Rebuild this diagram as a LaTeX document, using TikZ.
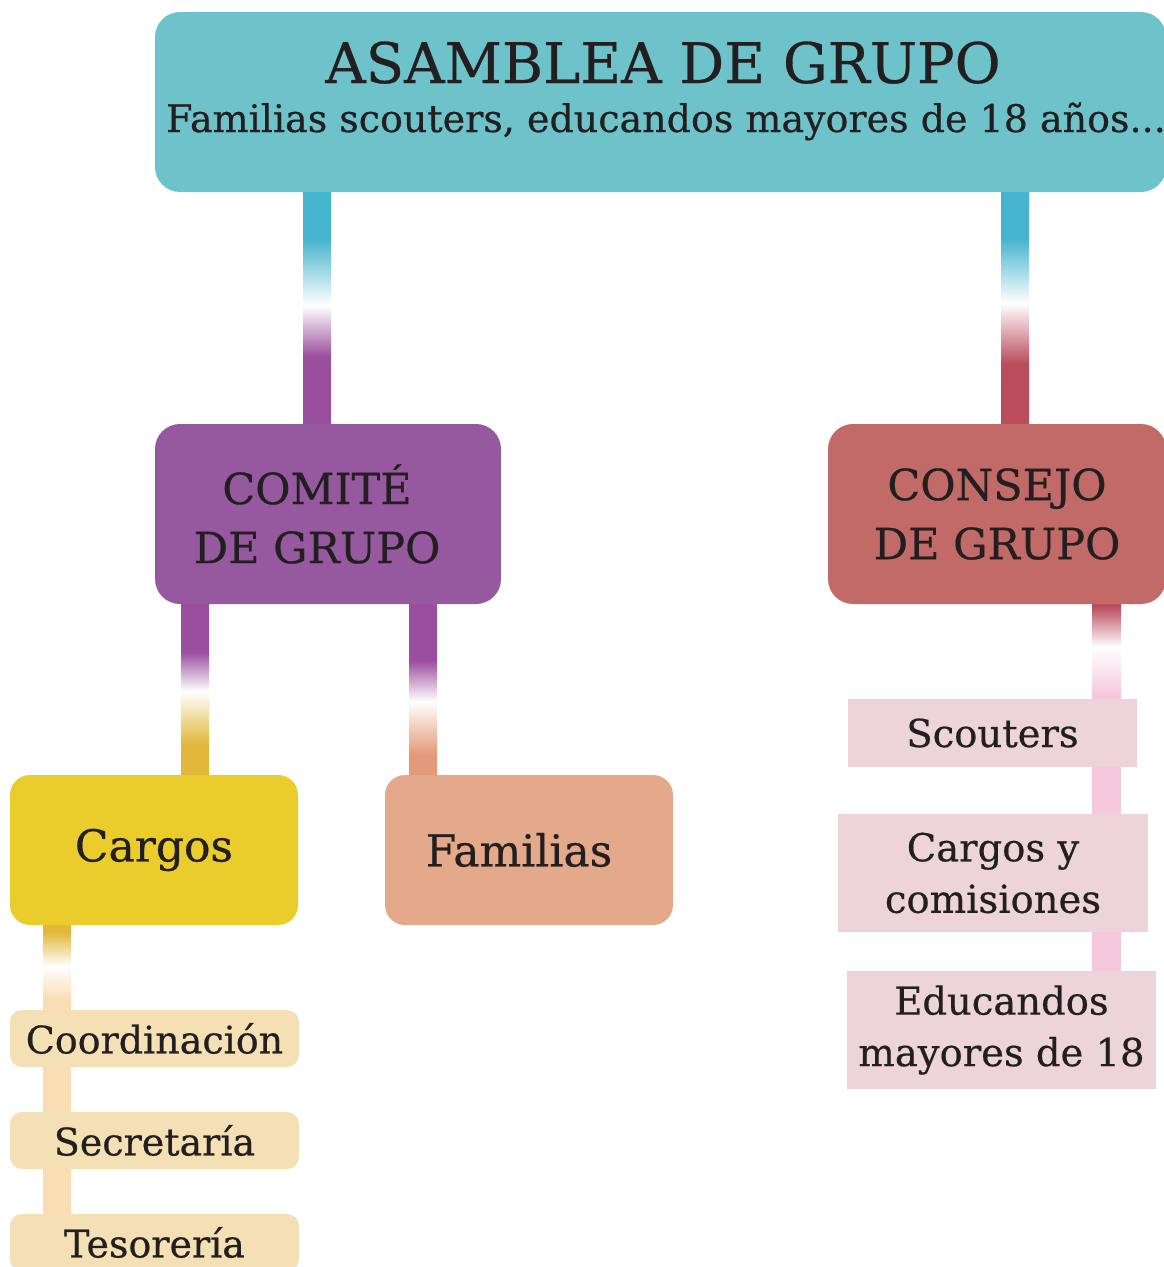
\documentclass[tikz,border=0pt]{standalone}
\usepackage{fontspec}
\setmainfont{DejaVu Serif}[FakeBold=0.5]
\usetikzlibrary{positioning,
  backgrounds,
  calc
}

\definecolor{ink}{HTML}{231F20}
\definecolor{tealbox}{HTML}{6EC3CA}
\definecolor{cyanbar}{HTML}{45B4CE}
\definecolor{purplebar}{HTML}{9A4E9E}
\definecolor{purplebox}{HTML}{9659A0}
\definecolor{redbar}{HTML}{BA4C5C}
\definecolor{redbox}{HTML}{C16A67}
\definecolor{goldbar}{HTML}{E2B83B}
\definecolor{yellowbox}{HTML}{EACD2D}
\definecolor{salmonbar}{HTML}{E39A7A}
\definecolor{salmonbox}{HTML}{E3A98A}
\definecolor{peachbar}{HTML}{FADDB2}
\definecolor{peachbox}{HTML}{F5DFB5}
\definecolor{pinkbar}{HTML}{F6C8DB}
\definecolor{pinkbox}{HTML}{EDD3DA}

% name, top colour, bottom colour, end of top, white, start of bottom
\newcommand\barshading[6]{%
  \pgfdeclareverticalshading{#1}{100bp}{color(0bp)=(#3); color(#6)=(#3);
    color(#5)=(white); color(#4)=(#2); color(100bp)=(#2)}}
\barshading{cyanpurple}{cyanbar}{purplebar}{65bp}{50.5bp}{39.5bp}
\barshading{cyanred}{cyanbar}{redbar}{65bp}{51bp}{38bp}
\barshading{purplegold}{purplebar}{goldbar}{61bp}{49.5bp}{34bp}
\barshading{purplesalmon}{purplebar}{salmonbar}{58.5bp}{46.5bp}{31bp}
\barshading{goldpeach}{goldbar}{peachbar}{71bp}{50.5bp}{31bp}
\barshading{redpink}{redbar}{pinkbar}{74bp}{52.5bp}{26.5bp}

\begin{document}
\begin{tikzpicture}[x=1pt, y=-1pt,
  every node/.style={text=ink, inner sep=0pt, align=center},
  organbox/.style={rounded corners=25pt, minimum height=180pt, font=\fontsize{43}{59}\selectfont},
  leafbox/.style={rounded corners=20pt, minimum width=288pt, minimum height=150pt, font=\fontsize{44}{52}\selectfont},
  taskbox/.style={fill=peachbox, rounded corners=12pt, minimum width=289pt, minimum height=57pt, font=\fontsize{38}{46}\selectfont},
  memberbox/.style={fill=pinkbox, font=\fontsize{38.5}{51.5}\selectfont}]

  \useasboundingbox (0,0) rectangle (1164,1267);
  \clip (0,0) rectangle (1164,1267);

  % asamblea
  \node[fill=tealbox, rounded corners=25pt, minimum width=1011pt, minimum height=180pt] (asamblea) at (660.5,102) {};
  \node[anchor=base, font=\fontsize{56}{60}\selectfont] (titulo) at (663,83) {ASAMBLEA DE GRUPO};
  \node[anchor=base, font=\fontsize{38}{40}\selectfont] (subtitulo) at (666,132) {Familias scouters, educandos mayores de 18 años...};

  % comite y consejo
  \node[organbox, fill=purplebox, minimum width=346pt] (comite)  at (328,514) {COMITÉ\hspace*{22pt}\\DE GRUPO\hspace*{22pt}};
  \node[organbox, fill=redbox,    minimum width=338pt] (consejo) at (997,514) {CONSEJO\\DE GRUPO};

  \node[leafbox, fill=yellowbox] (cargos)   at (154,850) {Cargos};
  \node[leafbox, fill=salmonbox] (familias) at (529,850) {Familias\hspace*{20pt}};

  \node[taskbox] (coord) at (154.5,1038.5) {Coordinación};
  \node[taskbox] (secre) at (154.5,1140.5) {Secretaría};
  \node[taskbox] (tesor) at (154.5,1242.5) {Tesorería};

  \node[memberbox, minimum width=289pt, minimum height=68pt]  (scouters) at (992.5,733)  {Scouters};
  \node[memberbox, minimum width=310pt, minimum height=118pt] (comision) at (993,873)    {Cargos y\\comisiones};
  \node[memberbox, minimum width=309pt, minimum height=118pt] (educ)     at (1001.5,1030) {Educandos\\mayores de 18};

  \begin{scope}[on background layer]
    \shade[shading=cyanpurple] ($(comite.north)+(-25,0)$) rectangle ($(comite.north|-asamblea.south)+(3,0)$);
    \shade[shading=cyanred] ($(consejo.north)+(4,0)$) rectangle ($(consejo.north|-asamblea.south)+(32,0)$);
    \shade[shading=purplegold] ($(cargos.north)+(27,0)$) rectangle ($(cargos.north|-comite.south)+(55,0)$);
    \shade[shading=purplesalmon] ($(familias.north)+(-120,0)$) rectangle ($(familias.north|-comite.south)+(-92,0)$);
    \shade[shading=goldpeach] ($(coord.north)+(-111.5,0)$) rectangle ($(coord.north|-cargos.south)+(-83.5,0)$);
    \fill[peachbar] ($(coord.south)+(-111.5,0)$) rectangle ($(tesor.north)+(-83.5,0)$);
    \shade[shading=redpink] ($(scouters.north)+(99.5,0)$) rectangle ($(scouters.north|-consejo.south)+(128.5,0)$);
    \fill[pinkbar] ($(scouters.south)+(99.5,0)$) rectangle ($(educ.north-|scouters.north)+(128.5,0)$);
  \end{scope}

\end{tikzpicture}
\end{document}
